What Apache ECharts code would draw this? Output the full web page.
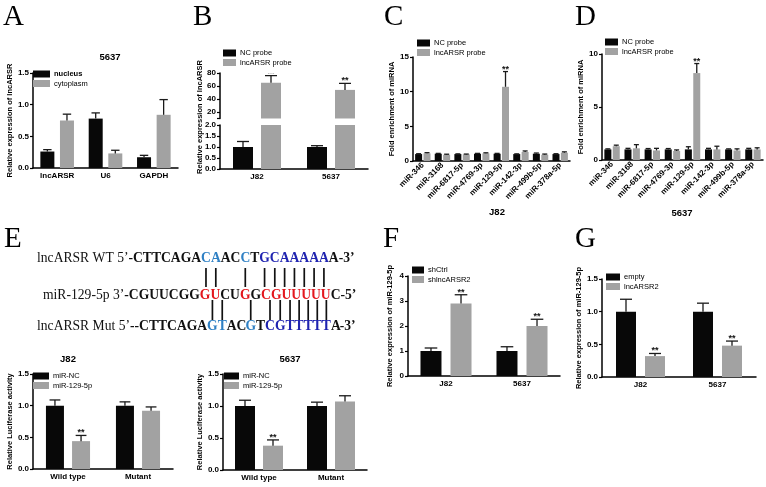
<!DOCTYPE html>
<html><head><meta charset="utf-8">
<script src="https://cdn.jsdelivr.net/npm/echarts@6/dist/echarts.min.js"></script>
<style>html,body{margin:0;padding:0;background:#fff}#c{width:766px;height:487px}</style>
</head><body><div id="c"></div><script>
// ---------------- DATA ----------------
const A_categories = ['lncARSR', 'U6', 'GAPDH'];
const A_nucleus = [0.26, 0.78, 0.17];
const A_nucleus_err = [0.03, 0.09, 0.03];
const A_cytoplasm = [0.75, 0.23, 0.84];
const A_cytoplasm_err = [0.10, 0.05, 0.24];

const B_categories = ['J82', '5637'];
const B_nc = [1.0, 1.0];
const B_nc_err = [0.25, 0.06];
const B_probe = [65, 54];
const B_probe_err = [11, 10];
const B_probe_sig = ['**', '**'];
const B_upper_ticks = [20, 40, 60, 80];

const CD_categories = ['miR-346', 'miR-3168', 'miR-6817-5p', 'miR-4769-3p', 'miR-129-5p', 'miR-142-3p', 'miR-499b-5p', 'miR-378a-5p'];
const C_nc = [1.0, 1.05, 1.0, 1.05, 1.05, 1.0, 1.05, 1.0];
const C_nc_err = [0.05, 0.05, 0.03, 0.05, 0.05, 0.03, 0.1, 0.05];
const C_probe = [1.1, 0.9, 0.95, 1.1, 10.7, 1.3, 0.9, 1.2];
const C_probe_err = [0.1, 0.08, 0.05, 0.08, 2.2, 0.15, 0.1, 0.12];
const C_probe_sig = ['', '', '', '', '**', '', '', ''];
const D_nc = [1.0, 1.0, 1.0, 1.0, 1.0, 1.0, 1.0, 1.0];
const D_nc_err = [0.05, 0.1, 0.08, 0.08, 0.25, 0.1, 0.05, 0.1];
const D_probe = [1.3, 1.1, 0.9, 0.85, 8.2, 1.0, 0.9, 1.0];
const D_probe_err = [0.1, 0.35, 0.2, 0.1, 0.9, 0.3, 0.15, 0.15];
const D_probe_sig = ['', '', '', '', '**', '', '', ''];

const E_categories = ['Wild type', 'Mutant'];
const E_J82_nc = [1.0, 1.0];
const E_J82_nc_err = [0.09, 0.06];
const E_J82_mir = [0.44, 0.92];
const E_J82_mir_err = [0.09, 0.06];
const E_J82_sig = ['**', ''];
const E_5637_nc = [1.0, 1.0];
const E_5637_nc_err = [0.09, 0.06];
const E_5637_mir = [0.38, 1.07];
const E_5637_mir_err = [0.09, 0.09];
const E_5637_sig = ['**', ''];

const FG_categories = ['J82', '5637'];
const F_shCtrl = [1.0, 1.0];
const F_shCtrl_err = [0.12, 0.17];
const F_sh = [2.9, 2.0];
const F_sh_err = [0.35, 0.27];
const F_sig = ['**', '**'];
const G_empty = [1.0, 1.0];
const G_empty_err = [0.19, 0.13];
const G_lnc = [0.32, 0.48];
const G_lnc_err = [0.04, 0.07];
const G_sig = ['**', '**'];

// sequences (panel E)
const seqWT = 'CTTCAGACAACCTGCAAAAAA';
const seqMiR = 'CGUUCGGGUCUGGCGUUUUUC';
const seqMut = 'CTTCAGAGTACGTCGTTTTTA';
const colWT = 'kkkkkkkbbkkbkBBBBBBBk';
const colMiR = 'kkkkkkkrrkkrkrrrrrrrk';
const colMut = 'kkkkkkkbbkkbkBBBBBBBk';
const pairPositions = [8, 9, 12, 14, 15, 16, 17, 18, 19, 20];

// ---------------- STYLE ----------------
const BLACK = '#080808', GREY = '#a2a2a2';
const SANS = '"Liberation Sans", Arial, sans-serif';
const SERIF = '"Liberation Serif", "Times New Roman", serif';

const option = { animation: false, grid: [], xAxis: [], yAxis: [], series: [], legend: [], graphic: [] };

function makeErr(offset, capW, sig) {
  return function (params, api) {
    const ci = api.value(0), v = api.value(1), e = api.value(2);
    const base = api.coord([ci, v]);
    const top = api.coord([ci, v + e]);
    const x = base[0] + offset;
    const ch = [
      { type: 'line', shape: { x1: x, y1: base[1], x2: x, y2: top[1] }, style: { stroke: '#1a1a1a', lineWidth: 1.3 } },
      { type: 'line', shape: { x1: x - capW / 2, y1: top[1], x2: x + capW / 2, y2: top[1] }, style: { stroke: '#1a1a1a', lineWidth: 1.3 } }
    ];
    const s = sig && sig[params.dataIndex];
    if (s) ch.push({ type: 'text', style: { text: s, x: x, y: top[1] + 2, align: 'center', verticalAlign: 'bottom', font: 'bold 9px ' + SANS, fill: '#111' } });
    return { type: 'group', children: ch };
  };
}

function addPanel(cfg) {
  const gi = option.grid.length;
  option.grid.push({ left: cfg.box[0], top: cfg.box[1], width: cfg.box[2], height: cfg.box[3] });
  option.xAxis.push({
    type: 'category', gridIndex: gi, data: cfg.cats, show: cfg.showX !== false,
    axisLine: { lineStyle: { color: '#000', width: 1.5 } },
    axisTick: { alignWithLabel: true, length: 3, lineStyle: { color: '#000', width: 1.2 } },
    axisLabel: Object.assign({ color: '#000', fontFamily: SANS, fontWeight: 'bold', fontSize: 8, margin: 4, interval: 0 }, cfg.xLabel || {})
  });
  const y = Object.assign({
    type: 'value', gridIndex: gi,
    axisLine: { show: true, lineStyle: { color: '#000', width: 1.5 } },
    axisTick: { show: true, length: 3, lineStyle: { color: '#000', width: 1.2 } },
    splitLine: { show: false },
    axisLabel: { color: '#000', fontFamily: SANS, fontWeight: 'bold', fontSize: 8, margin: 4, formatter: cfg.fmt },
    nameLocation: 'middle', nameTextStyle: { fontFamily: SANS, fontWeight: 'bold', fontSize: 7.5, color: '#000' }
  }, cfg.y);
  option.yAxis.push(y);
  const n = cfg.series.length;
  const gapFrac = cfg.gap;
  cfg.series.forEach((s) => {
    option.series.push({ type: 'bar', name: s.name, xAxisIndex: gi, yAxisIndex: gi, data: s.values, barWidth: cfg.barWidth, barGap: (gapFrac * 100) + '%', itemStyle: { color: s.color }, silent: true });
  });
  cfg.series.forEach((s, k) => {
    const offset = (k - (n - 1) / 2) * cfg.barWidth * (1 + gapFrac);
    option.series.push({
      type: 'custom', xAxisIndex: gi, yAxisIndex: gi, clip: true, z: 3, silent: true,
      encode: { x: 0, y: 1 },
      data: s.values.map((v, i) => [i, v, s.errs[i]]),
      renderItem: makeErr(offset, cfg.capW || cfg.barWidth * 0.6, s.sig)
    });
  });
  if (cfg.legend) {
    option.legend.push({
      left: cfg.legend[0], top: cfg.legend[1], orient: 'vertical', icon: 'rect',
      itemWidth: cfg.legend[2] || 14, itemHeight: 7, itemGap: 1.5, padding: 0, selectedMode: false,
      textStyle: { fontFamily: SANS, fontSize: 7.5, color: '#000', lineHeight: 8, padding: [0, 0, 0, -1] },
      data: cfg.series.map((s, k) => ({ name: s.name, textStyle: (cfg.legendBold && k === 0) ? { fontWeight: 'bold' } : {} }))
    });
  }
  return gi;
}

// ---------- Panel A ----------
addPanel({
  box: [33, 73, 145, 95], cats: A_categories, barWidth: 14, gap: 0.4,
  y: { min: 0, max: 1.5, interval: 0.5, name: 'Relative expression of lncARSR', nameGap: 19 },
  fmt: v => v.toFixed(1), legend: [33, 70, 17], legendBold: true,
  series: [
    { name: 'nucleus', values: A_nucleus, errs: A_nucleus_err, color: BLACK },
    { name: 'cytoplasm', values: A_cytoplasm, errs: A_cytoplasm_err, color: GREY }
  ]
});

// ---------- Panel B (broken axis) ----------
addPanel({
  box: [220, 73, 148, 45.5], cats: B_categories, barWidth: 20, gap: 0.4, showX: false,
  y: { min: 10, max: 80, axisLabel: { customValues: B_upper_ticks, color: '#000', fontFamily: SANS, fontWeight: 'bold', fontSize: 8, margin: 4 },
       axisTick: { show: true, length: 3, customValues: [10].concat(B_upper_ticks), lineStyle: { color: '#000', width: 1.2 } } },
  legend: [223, 49, 13],
  series: [
    { name: 'NC probe', values: B_nc, errs: B_nc_err, color: BLACK },
    { name: 'lncARSR probe', values: B_probe, errs: B_probe_err, color: GREY, sig: B_probe_sig }
  ]
});
addPanel({
  box: [220, 125, 148, 44], cats: B_categories, barWidth: 20, gap: 0.4,
  y: { min: 0, max: 2, interval: 0.5 }, fmt: v => v.toFixed(1),
  series: [
    { name: 'NC probe', values: B_nc, errs: B_nc_err, color: BLACK },
    { name: 'lncARSR probe', values: B_probe, errs: B_probe_err, color: GREY }
  ]
});

// ---------- Panel C ----------
const rotLabel = { rotate: 45, fontWeight: 'bold', fontSize: 8, margin: 3 };
addPanel({
  box: [413, 57, 157, 104], cats: CD_categories, barWidth: 7, gap: 0.2, capW: 5,
  y: { min: 0, max: 15, interval: 5, name: 'Fold enrichment of miRNA', nameGap: 14 },
  xLabel: rotLabel, legend: [417, 39, 13],
  series: [
    { name: 'NC probe', values: C_nc, errs: C_nc_err, color: BLACK },
    { name: 'lncARSR probe', values: C_probe, errs: C_probe_err, color: GREY, sig: C_probe_sig }
  ]
});

// ---------- Panel D ----------
addPanel({
  box: [602, 54, 161, 106], cats: CD_categories, barWidth: 7, gap: 0.2, capW: 5,
  y: { min: 0, max: 10, interval: 5, name: 'Fold enrichment of miRNA', nameGap: 9 },
  xLabel: rotLabel, legend: [605, 38, 13],
  series: [
    { name: 'NC probe', values: D_nc, errs: D_nc_err, color: BLACK },
    { name: 'lncARSR probe', values: D_probe, errs: D_probe_err, color: GREY, sig: D_probe_sig }
  ]
});

// ---------- Panel E charts ----------
addPanel({
  box: [33, 374, 140, 95], cats: E_categories, barWidth: 18, gap: 0.45,
  y: { min: 0, max: 1.5, interval: 0.5, name: 'Relative Luciferase activity', nameGap: 19 },
  fmt: v => v.toFixed(1), legend: [33, 372, 16],
  series: [
    { name: 'miR-NC', values: E_J82_nc, errs: E_J82_nc_err, color: BLACK },
    { name: 'miR-129-5p', values: E_J82_mir, errs: E_J82_mir_err, color: GREY, sig: E_J82_sig }
  ]
});
addPanel({
  box: [223, 374, 144, 96], cats: E_categories, barWidth: 20, gap: 0.4,
  y: { min: 0, max: 1.5, interval: 0.5, name: 'Relative Luciferase activity', nameGap: 17 },
  fmt: v => v.toFixed(1), legend: [224, 372, 15],
  series: [
    { name: 'miR-NC', values: E_5637_nc, errs: E_5637_nc_err, color: BLACK },
    { name: 'miR-129-5p', values: E_5637_mir, errs: E_5637_mir_err, color: GREY, sig: E_5637_sig }
  ]
});

// ---------- Panel F ----------
addPanel({
  box: [408, 276, 152, 100], cats: FG_categories, barWidth: 21, gap: 0.43,
  y: { min: 0, max: 4, interval: 1, name: 'Relative expression of miR-129-5p', nameGap: 14 },
  legend: [412, 266, 12],
  series: [
    { name: 'shCtrl', values: F_shCtrl, errs: F_shCtrl_err, color: BLACK },
    { name: 'shlncARSR2', values: F_sh, errs: F_sh_err, color: GREY, sig: F_sig }
  ]
});

// ---------- Panel G ----------
addPanel({
  box: [602, 279, 154, 98], cats: FG_categories, barWidth: 20, gap: 0.45,
  y: { min: 0, max: 1.5, interval: 0.5, name: 'Relative expression of miR-129-5p', nameGap: 18 },
  fmt: v => v.toFixed(1), legend: [606, 273, 14],
  series: [
    { name: 'empty', values: G_empty, errs: G_empty_err, color: BLACK },
    { name: 'lncARSR2', values: G_lnc, errs: G_lnc_err, color: GREY, sig: G_sig }
  ]
});

// ---------- Graphic: letters, titles, B y-name, sequences ----------
const G = option.graphic;
[['A', 3, 17.5], ['B', 193, 17], ['C', 384, 17], ['D', 575, 17], ['E', 4, 239.5], ['F', 383, 239.5], ['G', 575, 239.5]]
  .forEach(([t, x, y]) => G.push({ type: 'text', x: x, y: y, style: { text: t, font: '29px ' + SERIF, fill: '#000', align: 'left', verticalAlign: 'middle' } }));
[['5637', 110, 57], ['J82', 497, 212], ['5637', 682, 213], ['J82', 68, 359], ['5637', 290, 359]]
  .forEach(([t, x, y]) => G.push({ type: 'text', x: x, y: y, style: { text: t, font: 'bold 9.5px ' + SANS, fill: '#000', align: 'center', verticalAlign: 'middle' } }));
G.push({ type: 'text', x: 200, y: 117, rotation: Math.PI / 2, style: { text: 'Relative expression of lncARSR', font: 'bold 7.5px ' + SANS, fill: '#000', align: 'center', verticalAlign: 'middle' } });

// sequences
const ctx = document.createElement('canvas').getContext('2d');
function tw(txt, bold, size) { ctx.font = (bold ? 'bold ' : '') + size + 'px ' + SERIF; return ctx.measureText(txt).width; }
const COL = { k: '#111111', b: '#2f80c4', B: '#1f23b0', r: '#e3171e' };
const lines = [
  { label: 'lncARSR WT 5’', pre: '-', seq: seqWT, col: colWT, post: '-3’', x: 37, y: 258 },
  { label: 'miR-129-5p 3’', pre: '-', seq: seqMiR, col: colMiR, post: '-5’', x: 43, y: 295 },
  { label: 'lncARSR Mut 5’', pre: '--', seq: seqMut, col: colMut, post: '-3’', x: 37, y: 326 }
];
function lineWidth(L, size) { return tw(L.label, false, size) + tw(L.pre + L.seq + L.post, true, size); }
const FS = 14 * 318 / lineWidth(lines[0], 14);
function charCenters(L) {
  const arr = [];
  const x0 = L.x + tw(L.label, false, FS);
  for (let i = 0; i < L.seq.length; i++) {
    const pre = L.pre + L.seq.slice(0, i);
    arr.push(x0 + tw(pre, true, FS) + tw(L.seq[i], true, FS) / 2);
  }
  return arr;
}
lines.forEach(L => {
  let x = L.x;
  G.push({ type: 'text', x: x, y: L.y, style: { text: L.label, font: FS + 'px ' + SERIF, fill: '#111', verticalAlign: 'middle' } });
  x += tw(L.label, false, FS);
  const pieces = [[L.pre, 'k']];
  let run = '', rc = L.col[0];
  for (let i = 0; i < L.seq.length; i++) {
    if (L.col[i] !== rc) { pieces.push([run, rc]); run = ''; rc = L.col[i]; }
    run += L.seq[i];
  }
  pieces.push([run, rc]);
  pieces.push([L.post, 'k']);
  let acc = '';
  const xs = x;
  pieces.forEach(([t, c]) => {
    const px = xs + tw(acc, true, FS);
    G.push({ type: 'text', x: px, y: L.y, style: { text: t, font: 'bold ' + FS + 'px ' + SERIF, fill: COL[c], verticalAlign: 'middle' } });
    acc += t;
  });
});
const cWT = charCenters(lines[0]);
const cMut = charCenters(lines[2]);
pairPositions.forEach(p => {
  G.push({ type: 'line', shape: { x1: cWT[p - 1], y1: 268, x2: cWT[p - 1], y2: 287 }, style: { stroke: '#111', lineWidth: 1.7 } });
  G.push({ type: 'line', shape: { x1: cMut[p - 1], y1: 300, x2: cMut[p - 1], y2: 320 }, style: { stroke: '#111', lineWidth: 1.7 } });
});

const chart = echarts.init(document.getElementById('c'), null, { renderer: 'canvas' });
chart.setOption(option);
</script></body></html>
